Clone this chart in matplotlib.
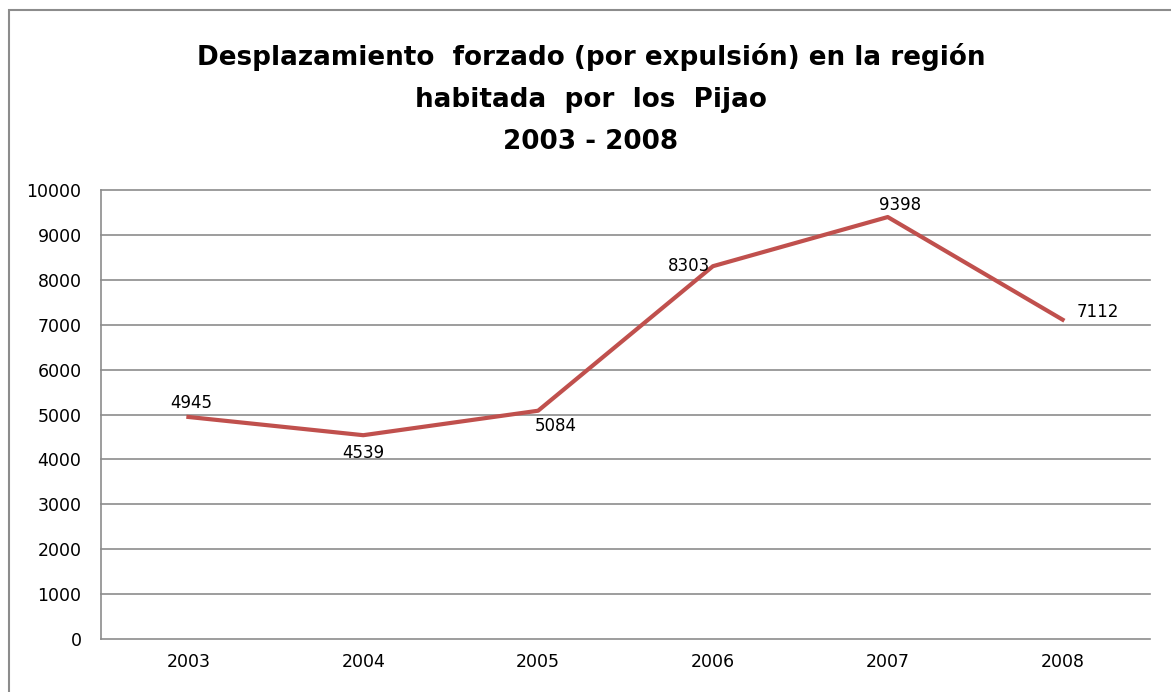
import matplotlib.pyplot as plt
from matplotlib.patches import Rectangle

years = ['2003', '2004', '2005', '2006', '2007', '2008']
desplazados = [4945, 4539, 5084, 8303, 9398, 7112]
yticks = list(range(0, 10001, 1000))

# desplazamiento de cada etiqueta respecto a su punto (px)
label_offsets = [(3, 14), (0, -18), (18, -15), (-24, 0), (12, 12), (35, 8)]

fig = plt.figure(figsize=(11.71, 6.92), dpi=100)
ax = fig.add_axes([101 / 1171, 1 - 639 / 692, (1150 - 101) / 1171, (639 - 190) / 692])

# marco del grafico
fig.patches.append(Rectangle((9 / 1171, -0.1), 1.2, (692 - 10) / 692 + 0.1,
                             transform=fig.transFigure, fill=False,
                             edgecolor='#8c8c8c', linewidth=1.5))

x = range(len(years))
ax.plot(x, desplazados, color='#C0504D', linewidth=3)

for i, (v, (dx, dy)) in enumerate(zip(desplazados, label_offsets)):
    ax.annotate(str(v), (i, v), xytext=(dx * 0.72, dy * 0.72), textcoords='offset points',
                ha='center', va='center', fontsize=12, color='black')

ax.set_xlim(-0.5, len(years) - 0.5)
ax.set_ylim(0, 10000)
ax.set_xticks(list(x))
ax.set_xticklabels(years)
ax.set_yticks(yticks)
ax.yaxis.grid(True, color='#8c8c8c', linewidth=1.2)
for gl in ax.get_ygridlines():
    gl.set_clip_on(False)
ax.set_axisbelow(True)
ax.tick_params(length=0, labelsize=12.5, pad=14)
ax.tick_params(axis='x', pad=10)
for s in ['top', 'right', 'bottom']:
    ax.spines[s].set_visible(False)
ax.spines['left'].set_color('#8c8c8c')
ax.spines['left'].set_linewidth(1.2)

fig.text(591 / 1171, 1 - 99 / 692,
         'Desplazamiento  forzado (por expulsión) en la región\nhabitada  por  los  Pijao\n2003 - 2008',
         ha='center', va='center', fontsize=18.9, fontweight='bold', linespacing=1.8)

fig.savefig('out.png', dpi=100)
